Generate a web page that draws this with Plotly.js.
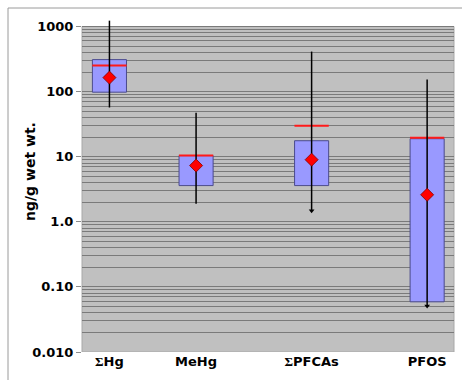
<!DOCTYPE html>
<html>
<head>
<meta charset="utf-8">
<script src="https://cdn.plot.ly/plotly-3.0.1.min.js"></script>
<style>html,body{margin:0;padding:0;background:#fff;}#chart{width:462px;height:380px;}</style>
</head>
<body>
<div id="chart"></div>
<script>
// ---- data ----
const categories = ['<span style="font-family:Liberation Serif">Σ</span>Hg', 'MeHg', '<span style="font-family:Liberation Serif">Σ</span>PFCAs', 'PFOS'];
const boxLow   = [98, 3.6, 3.6, 0.059];
const boxHigh  = [310, 10.4, 17.6, 18.9];
const redLine  = [251, 10.4, 30, 19.5];
const meanVal  = [164, 7.3, 9.0, 2.6];
const whiskMin = [57, 1.89, 1.48, 0.051];
const whiskMax = [1230, 47.5, 412, 153];
const arrowAtMin = [false, false, true, true];
const yTickVals = [0.01, 0.1, 1, 10, 100, 1000];
const yTickText = ['0.010', '0.10', '1.0', '10', '100', '1000'];
const yPlotMin = 0.01, yPlotMax = 1000;

// category slot positions on the x axis (layout)
const slot = [1, 4, 8, 12];

const FONT = 'DejaVu Sans, Verdana, sans-serif';

const traces = [
  { // boxes
    type: 'bar', x: slot,
    y: boxHigh.map((h, i) => h - boxLow[i]), base: boxLow,
    width: 1.18,
    marker: {color: '#9999ff', line: {color: '#4b4b8c', width: 1}},
    hoverinfo: 'skip', showlegend: false
  },
  { // red lines
    type: 'scatter', mode: 'markers', x: slot, y: redLine,
    marker: {symbol: 'line-ew', size: 24.5, line: {color: '#ff1a1a', width: 2}},
    cliponaxis: false, showlegend: false, hoverinfo: 'skip'
  },
  { // whiskers + mean diamonds
    type: 'scatter', mode: 'markers', x: slot, y: meanVal,
    error_y: {type: 'data', symmetric: false,
      array: whiskMax.map((v, i) => v - meanVal[i]),
      arrayminus: meanVal.map((v, i) => v - whiskMin[i]),
      width: 0, thickness: 1.5, color: '#000'},
    marker: {symbol: 'diamond', size: 10, color: '#ff0000', line: {color: '#800000', width: 0.8}},
    cliponaxis: false, showlegend: false
  },
  { // arrow heads
    type: 'scatter', mode: 'markers',
    x: slot.filter((s, i) => arrowAtMin[i]),
    y: whiskMin.filter((v, i) => arrowAtMin[i]),
    marker: {symbol: 'triangle-down', size: 5, color: '#000'},
    cliponaxis: false, showlegend: false, hoverinfo: 'skip'
  }
];

const L = 82, R = 454, T = 20, B = 352;
const px = x => (x - L) / (R - L);
const py = y => (B - y) / (B - T);

const layout = {
  width: 462, height: 380,
  margin: {l: L, r: 462 - R, t: T, b: 380 - B},
  paper_bgcolor: '#ffffff',
  plot_bgcolor: '#ffffff',
  showlegend: false,
  font: {family: FONT, size: 13, color: '#000'},
  xaxis: {
    range: [0.05, 12.93], tickmode: 'array', tickvals: slot, ticktext: categories,
    showgrid: false, zeroline: false, ticks: '', showline: false,
    tickfont: {family: FONT, size: 13, weight: 'bold'}
  },
  yaxis: {
    type: 'log', range: [-2, 3.1],
    tickmode: 'array', tickvals: yTickVals, ticktext: yTickText,
    ticks: 'outside', ticklen: 5, tickcolor: '#8c8c8c',
    showline: false,
    showgrid: true, gridcolor: '#7a7a7a', gridwidth: 1,
    minor: {dtick: 'D1', showgrid: true, gridcolor: '#7a7a7a', gridwidth: 1, ticks: ''},
    zeroline: false,
    tickfont: {family: FONT, size: 13, weight: 'bold'}
  },
  annotations: [{
    text: 'ng/g wet wt.', textangle: -90,
    xref: 'paper', yref: 'paper', x: px(30), y: py(172),
    xanchor: 'center', yanchor: 'middle', showarrow: false,
    font: {family: FONT, size: 14, weight: 'bold', color: '#000'}
  }],
  shapes: [
    {type: 'rect', layer: 'below', xref: 'paper', yref: 'y', x0: 0, x1: 1, y0: yPlotMin, y1: yPlotMax,
     fillcolor: '#c0c0c0', line: {color: '#a8a8a8', width: 1}},
    {type: 'line', xref: 'paper', yref: 'paper', x0: px(8), x1: px(462), y0: py(8), y1: py(8), line: {color: '#9a9a9a', width: 1}},
    {type: 'line', xref: 'paper', yref: 'paper', x0: px(8), x1: px(8), y0: py(8), y1: py(380), line: {color: '#9a9a9a', width: 1}}
  ]
};

Plotly.newPlot('chart', traces, layout, {displayModeBar: false, staticPlot: true});
</script>
</body>
</html>
